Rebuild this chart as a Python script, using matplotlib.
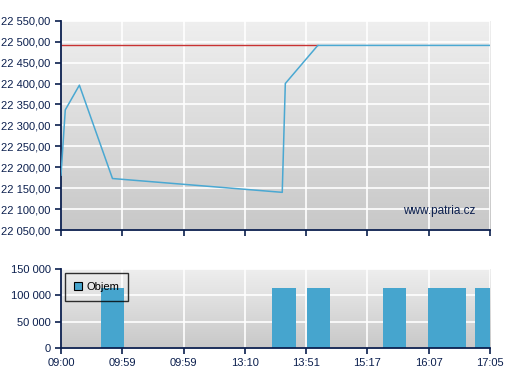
import numpy as np
import matplotlib
matplotlib.use("Agg")
import matplotlib.pyplot as plt
from matplotlib.ticker import FuncFormatter, MultipleLocator

plt.rcParams['font.family'] = ['Liberation Sans', 'DejaVu Sans']

# ===== DONNEES =====
time_labels = ["09:00", "09:59", "09:59", "13:10", "13:51", "15:17", "16:07", "17:05"]

# cours (position sur l'axe des temps, valeur)
price_x = [0.0, 0.07, 0.30, 0.84, 3.61, 3.66, 4.19, 5.44, 6.18, 6.42, 6.94, 7.0]
price_y = [22181, 22337, 22396, 22173, 22140, 22400, 22491, 22491, 22491, 22491, 22491, 22491]
prev_close = 22491

# volumes
vol_x = [0.84, 3.64, 4.20, 5.44, 6.18, 6.42, 6.94]
vol_y = [114000, 114000, 114000, 114000, 114000, 114000, 114000]

NAVY = "#0b1f4e"
BLUE = "#46a5ce"


def fmt_price(v, pos):
    s = f"{v:,.2f}"
    return s.replace(",", " ").replace(".", ",")


def fmt_vol(v, pos):
    return f"{v:,.0f}".replace(",", " ")


def style_axes(ax):
    grad = np.linspace(0, 1, 256).reshape(-1, 1)
    ax.imshow(grad, extent=[0, 1, 0, 1], transform=ax.transAxes, aspect="auto",
              cmap=matplotlib.colors.LinearSegmentedColormap.from_list(
                  "g", ["#c8c8c8", "#efefef"]), origin="lower", zorder=0)
    ax.set_axisbelow(True)
    ax.grid(True, color="white", linewidth=1.2)
    for s in ["top", "right"]:
        ax.spines[s].set_visible(False)
    for s in ["left", "bottom"]:
        ax.spines[s].set_color(NAVY)
        ax.spines[s].set_linewidth(1.3)
    ax.tick_params(colors=NAVY, labelcolor=NAVY, labelsize=8, length=4, width=1.2)
    ax.set_xlim(0, 7)
    ax.xaxis.set_major_locator(MultipleLocator(1))


fig = plt.figure(figsize=(5.07, 3.80), dpi=100)

# ===== GRAPHIQUE DU COURS =====
ax1 = fig.add_axes([0.1203, 0.3947, 0.8462, 0.5508])
style_axes(ax1)
ax1.set_ylim(22050, 22550)
ax1.yaxis.set_major_locator(MultipleLocator(50))
ax1.yaxis.set_major_formatter(FuncFormatter(fmt_price))
ax1.set_xticklabels([])
# cloture precedente (rouge) jusqu'au point ou le cours la rejoint
ax1.hlines(prev_close, 0, price_x[6], color="#c83232", linewidth=1, zorder=2)
ax1.plot(price_x, price_y, color="#4aa8d2", linewidth=1.1, zorder=3)
ax1.text(0.965, 0.06, "www.patria.cz", transform=ax1.transAxes, ha="right",
         va="bottom", color=NAVY, fontsize=8.5)

# ===== GRAPHIQUE DES VOLUMES =====
ax2 = fig.add_axes([0.1203, 0.0842, 0.8462, 0.2079])
style_axes(ax2)
ax2.set_ylim(0, 150000)
ax2.yaxis.set_major_locator(MultipleLocator(50000))
ax2.yaxis.set_major_formatter(FuncFormatter(fmt_vol))
ax2.bar(vol_x, vol_y, width=0.38, color=BLUE, label="Objem", zorder=2)
ax2.set_xticks(range(len(time_labels)))
ax2.set_xticklabels(time_labels)
leg = ax2.legend(loc="upper left", bbox_to_anchor=(0.009, 0.95), borderaxespad=0,
                 frameon=True, fancybox=False, facecolor="none", edgecolor="black",
                 fontsize=8, handlelength=0.72, handleheight=0.72,
                 handletextpad=0.4, borderpad=0.8)
leg.get_frame().set_linewidth(1)
for h in leg.legend_handles:
    h.set_edgecolor("black")
    h.set_linewidth(0.8)
for t in leg.get_texts():
    t.set_color("black")

fig.savefig("out.png", dpi=100)
